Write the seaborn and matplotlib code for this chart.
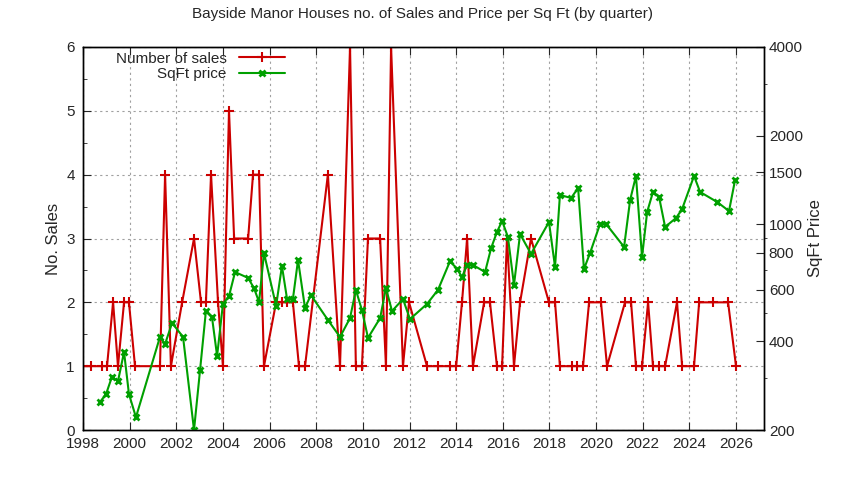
import matplotlib
matplotlib.use("Agg")
import matplotlib.pyplot as plt
import seaborn as sns
import pandas as pd
from matplotlib.ticker import FixedLocator, NullFormatter

sales_year = [1998.0,1998.34,1998.81,1999.03,1999.29,1999.5,1999.76,1999.97,2000.23,2001.3,2001.52,2001.77,
    2002.25,2002.76,2003.06,2003.27,2003.49,2003.79,2004.0,2004.26,2004.48,2005.08,2005.29,2005.55,2005.76,
    2006.28,2006.53,2006.75,2007.0,2007.26,2007.52,2008.5,2009.02,2009.45,2009.7,2009.96,2010.22,2010.74,
    2010.99,2011.21,2011.72,2011.98,2012.75,2013.22,2013.74,2014.0,2014.25,2014.47,2014.72,2015.2,2015.45,
    2015.75,2015.97,2016.18,2016.48,2016.74,2017.21,2017.98,2018.24,2018.45,2018.97,2019.18,2019.44,2019.7,
    2020.21,2020.47,2021.24,2021.5,2021.71,2021.97,2022.23,2022.44,2022.7,2022.96,2023.47,2023.69,2024.2,
    2024.42,2025.0,2025.66,2026.0]
sales_n = [1,1,1,1,2,1,2,2,1,1,4,1,2,3,2,2,4,2,1,5,3,3,4,4,1,2,2,2,2,1,1,4,1,6,1,1,3,3,1,6,1,2,1,1,1,1,2,3,1,
    2,2,1,1,3,1,2,3,2,2,1,1,1,1,2,2,1,2,2,1,1,2,1,1,1,2,1,1,2,2,2,1]

price_pairs = [
    (1998.73,249),(1998.99,265),(1999.24,303),(1999.5,293),(1999.76,368),(1999.97,265),(2000.27,221),
    (2001.3,414),(2001.52,392),(2001.82,462),(2002.29,414),(2002.76,200),(2003.02,320),(2003.27,507),
    (2003.53,484),(2003.75,357),(2004.0,536),(2004.26,570),(2004.52,688),(2005.08,657),(2005.33,607),
    (2005.55,544),(2005.76,798),(2006.28,528),(2006.53,721),(2006.75,557),(2007.0,557),(2007.22,756),
    (2007.52,519),(2007.77,575),(2008.5,473),(2009.02,414),(2009.45,480),(2009.7,598),(2009.96,511),
    (2010.22,411),(2010.74,480),(2010.99,607),(2011.25,507),(2011.72,557),(2012.02,476),(2012.75,536),
    (2013.22,598),(2013.74,750),(2014.04,704),(2014.25,662),(2014.47,727),(2014.72,727),(2015.24,688),
    (2015.5,830),(2015.75,941),(2015.97,1026),(2016.22,905),(2016.48,622),(2016.74,926),(2017.21,793),
    (2017.98,1018),(2018.24,716),(2018.45,1257),(2018.93,1228),(2019.23,1328),(2019.48,704),(2019.74,798),
    (2020.17,1002),(2020.43,1002),(2021.2,837),(2021.46,1209),(2021.71,1459),(2021.97,774),(2022.19,1101),
    (2022.44,1287),(2022.7,1238),(2022.96,979),(2023.43,1050),(2023.69,1127),(2024.2,1459),(2024.46,1287),
    (2025.19,1190),(2025.7,1109),(2025.96,1414)]
price_year = [p[0] for p in price_pairs]
price = [p[1] for p in price_pairs]

df_s = pd.DataFrame({"year": sales_year, "n": sales_n})
df_p = pd.DataFrame({"year": price_year, "p": price})

sns.set_style("ticks")
plt.rcParams['font.family'] = ['Liberation Sans', 'DejaVu Sans']
fig = plt.figure(figsize=(8.44, 4.8), dpi=100)
ax = fig.add_axes([83/844, 50/480, 681/844, 383/480])
ax2 = ax.twinx()

sns.lineplot(data=df_s, x="year", y="n", ax=ax, color="#cc0000", lw=1.5, marker="+", markersize=7,
             markeredgewidth=1.5, markeredgecolor="#cc0000", label="Number of sales", legend=False)
sns.lineplot(data=df_p, x="year", y="p", ax=ax2, color="#00a000", lw=1.5, marker="x", markersize=5,
             markeredgewidth=2, markeredgecolor="#00a000", label="SqFt price", legend=False)

ax.set_xlim(1998, 2027.2)
ax.set_ylim(0, 6)
ax.set_xticks(range(1998, 2027, 2))
ax.set_yticks(range(0, 7))
ax.grid(True, color="#a0a0a0", ls=(0, (2, 3)), lw=0.8)
ax.set_xlabel("")
ax.set_ylabel("No. Sales", fontsize=12)
ax2.set_yscale("log")
ax2.set_ylim(200, 4000)
ax2.yaxis.set_major_locator(FixedLocator([200, 400, 600, 800, 1000, 1500, 2000, 4000]))
ax2.yaxis.set_major_formatter(matplotlib.ticker.FixedFormatter(["200","400","600","800","1000","1500","2000","4000"]))
ax2.yaxis.set_minor_locator(FixedLocator([300, 500, 700, 900, 3000]))
ax2.yaxis.set_minor_formatter(NullFormatter())
ax2.set_ylabel("SqFt Price", fontsize=12)
for a in (ax, ax2):
    a.tick_params(labelsize=11, direction="in", length=6, top=False)
    for s in a.spines.values():
        s.set_visible(True); s.set_color("black"); s.set_linewidth(1)
ax.tick_params(axis="x", top=True, direction="in", pad=5)
ax.tick_params(axis="y", pad=6)
ax.minorticks_off()
ax.yaxis.set_minor_locator(FixedLocator([0.5,1.5,2.5,3.5,4.5,5.5]))
ax.tick_params(axis="y", which="minor", direction="in", length=3)

h1, l1 = ax.get_legend_handles_labels()
h2, l2 = ax2.get_legend_handles_labels()
leg = ax.legend(h1 + h2, l1 + l2, loc="upper left", bbox_to_anchor=(0.03, 1.02), frameon=False,
                markerfirst=False, fontsize=11, handlelength=3, borderpad=0.3, labelspacing=0.1)
leg._legend_box.align = "right"
fig.suptitle("Bayside Manor Houses no. of Sales and Price per Sq Ft (by quarter)", y=0.985, fontsize=11)
fig.savefig("out.png", dpi=100)
